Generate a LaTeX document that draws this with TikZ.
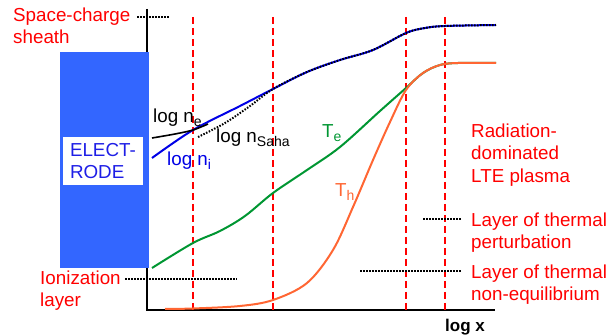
\documentclass[tikz,border=0pt]{standalone}
\usepackage{fontspec}
\setmainfont{Liberation Sans}
\usetikzlibrary{positioning}
\definecolor{elblue}{RGB}{51,102,255}
\definecolor{eltext}{RGB}{30,30,230}
\definecolor{niblue}{RGB}{0,0,230}
\definecolor{tegreen}{RGB}{0,150,50}
\definecolor{thorange}{RGB}{255,102,51}
\newcommand{\lowsub}[1]{\raisebox{-4pt}{\fontsize{14}{14}\selectfont #1}}
\tikzset{
  lbl/.style={font=\fontsize{18.8}{22}\selectfont, inner sep=0pt, anchor=base west, align=left},
  redlbl/.style={lbl, text=red},
  layerline/.style={red, line width=2pt, dash pattern=on 7pt off 4pt},
  leader/.style={black, line width=1.5pt, dash pattern=on 1.5pt off 1.5pt},
  axisline/.style={black, line width=2.5pt},
  curve/.style={line width=2pt, line join=round},
}
\begin{document}
\begin{tikzpicture}[x=1pt,y=-1pt]
\useasboundingbox (0,0) rectangle (616,336);
% axes
\coordinate (top) at (147,9);
\coordinate (orig) at (147,310);
\coordinate (xend) at (495,310);
\draw[axisline] (top) -- (orig) -- (xend);
% layer borders
\foreach \xb [count=\i] in {193,273,406,445}{
  \coordinate (b\i) at (\xb,17);
  \draw[layerline] (b\i) -- (b\i |- orig);
}
% electrode
\node[fill=elblue, minimum width=89pt, minimum height=216pt, anchor=north west, inner sep=0pt] (electrode) at (60,52) {};
\node[lbl, anchor=center, fill=white, text=eltext, text width=66pt, minimum width=80pt, minimum height=48pt] (elabel) at (103,161) {ELECT-\\RODE};
% temperatures
\draw[curve, tegreen] plot[smooth, tension=0.55] coordinates {(152,268) (193,243) (220,231) (245,216) (273,193) (307,170) (340,147) (380,111) (406,88) (423,73) (440,65) (458,63) (496,63)};
\draw[curve, thorange] plot[smooth, tension=0.55] coordinates {(165,309) (193,308.5) (240,306) (273,300) (307,283) (333,250) (353,207) (373,160) (390,122) (406,90) (423,73) (440,65) (458,63) (496,63)};
% densities
\draw[curve, niblue] plot[smooth, tension=0.55] coordinates {(152,158) (193,130) (240,106) (273,89) (307,72) (340,60) (373,50) (406,33) (425,28) (445,26) (496,25)};
\draw[curve, black, line width=1.6pt] plot[smooth, tension=0.55] coordinates {(152,138) (175,134) (193,130) (208,124)};
\draw[leader, line width=2pt] plot[smooth, tension=0.55] coordinates {(198,137) (225,123) (250,106) (273,89) (307,72) (340,60) (373,50) (406,33) (425,28) (445,26) (496,25)};
% curve labels
\node[lbl] (ne) at (153,123) {log n\lowsub{e}};
\node[lbl] (nsaha) at (216,143) {log n\lowsub{Saha}};
\node[lbl, text=niblue] (ni) at (167,166) {log n\lowsub{i}};
\node[lbl, text=tegreen] (te) at (322,138) {T\lowsub{e}};
\node[lbl, text=thorange] (th) at (335,197) {T\lowsub{h}};
\node[lbl, font=\fontsize{17}{20}\selectfont\bfseries] (logx) at (445,332) {log x};
% layer labels (base = last line)
\node[redlbl] (sheath) at (13,44) {Space-charge\\sheath};
\node[redlbl] (ionlayer) at (40,307) {Ionization\\layer};
\node[redlbl, font=\fontsize{18.8}{22.5}\selectfont] (lte) at (471,182.5) {Radiation-\\dominated\\LTE plasma};
\node[redlbl, font=\fontsize{18.8}{21.5}\selectfont] (perturb) at (471,248.5) {Layer of thermal\\perturbation};
\node[redlbl, font=\fontsize{18.8}{21.5}\selectfont] (noneq) at (471,300.5) {Layer of thermal\\non-equilibrium};
% leaders
\coordinate (s1) at (137,17); \coordinate (s2) at (170,17);
\coordinate (i1) at (125,279); \coordinate (i2) at (237,279);
\coordinate (p1) at (423,219); \coordinate (p2) at (462,219);
\coordinate (q1) at (360,271); \coordinate (q2) at (462,271);
\draw[leader] (s1) -- (s2);
\draw[leader] (i1) -- (i2);
\draw[leader] (p1) -- (p2);
\draw[leader] (q1) -- (q2);
\end{tikzpicture}
\end{document}
